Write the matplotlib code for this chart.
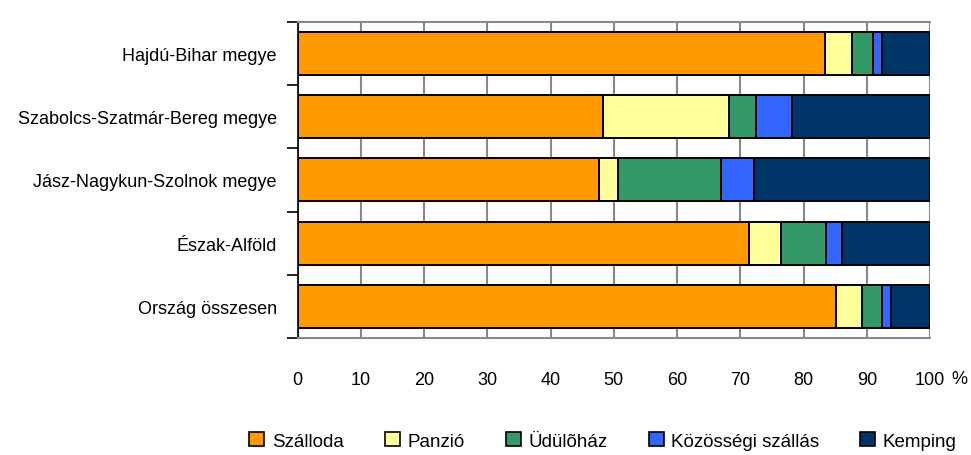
import numpy as np
import matplotlib.pyplot as plt
from matplotlib.patches import Patch

plt.rcParams['font.family'] = ['Liberation Sans', 'DejaVu Sans']

categories = ["Hajdú-Bihar megye", "Szabolcs-Szatmár-Bereg megye",
              "Jász-Nagykun-Szolnok megye", "Észak-Alföld", "Ország összesen"]
szalloda = [83.4, 48.3, 47.7, 71.4, 85.1]
panzio = [4.3, 19.9, 2.9, 5.1, 4.1]
udulohaz = [3.3, 4.2, 16.4, 7.0, 3.2]
kozossegi = [1.4, 5.8, 5.2, 2.6, 1.5]
kemping = [7.6, 21.8, 27.8, 13.9, 6.1]
series_names = ["Szálloda", "Panzió", "Üdülõház", "Közösségi szállás", "Kemping"]
colors = ["#FF9900", "#FFFF99", "#339966", "#3366FF", "#003366"]

fig = plt.figure(figsize=(9.71, 4.56), dpi=100)
ax = fig.add_axes([0.3066, 0.2566, 0.6512, 0.6934])

y = np.arange(len(categories))
left = np.zeros(len(categories))
for vals, c in zip([szalloda, panzio, udulohaz, kozossegi, kemping], colors):
    ax.barh(y, vals, left=left, height=0.68, color=c, edgecolor="black",
            linewidth=1.4, zorder=3)
    left += np.array(vals)

ax.set_xlim(0, 100)
ax.set_ylim(len(categories) - 0.5, -0.5)
ax.set_xticks(np.arange(0, 101, 10))
ax.tick_params(axis="x", length=0, pad=24, labelsize=13)
ax.set_yticks(y)
ax.set_yticklabels(categories)
ax.tick_params(axis="y", which="major", length=0, pad=15, labelsize=13)
ax.set_yticks(np.arange(-0.5, len(categories), 1), minor=True)
ax.tick_params(axis="y", which="minor", length=8, width=1.2, color="black")
ax.grid(axis="x", color="#888888", linewidth=1.5, zorder=0)

for s in ["top", "right", "bottom"]:
    ax.spines[s].set_color("#888888")
    ax.spines[s].set_linewidth(1.5)
ax.spines["right"].set_visible(False)
ax.spines["left"].set_color("black")
ax.spines["left"].set_linewidth(1.2)

fig.text(0.988, 0.168, "%", ha="center", va="center", fontsize=13)

handles = [Patch(facecolor=c, edgecolor="black", linewidth=1.2) for c in colors]
fig.legend(handles, series_names, loc="center", bbox_to_anchor=(0.621, 0.031),
           ncol=5, frameon=False, fontsize=13.5, handlelength=0.8,
           handleheight=0.8, handletextpad=0.4, columnspacing=2.2)

fig.savefig("out.png", dpi=100)
